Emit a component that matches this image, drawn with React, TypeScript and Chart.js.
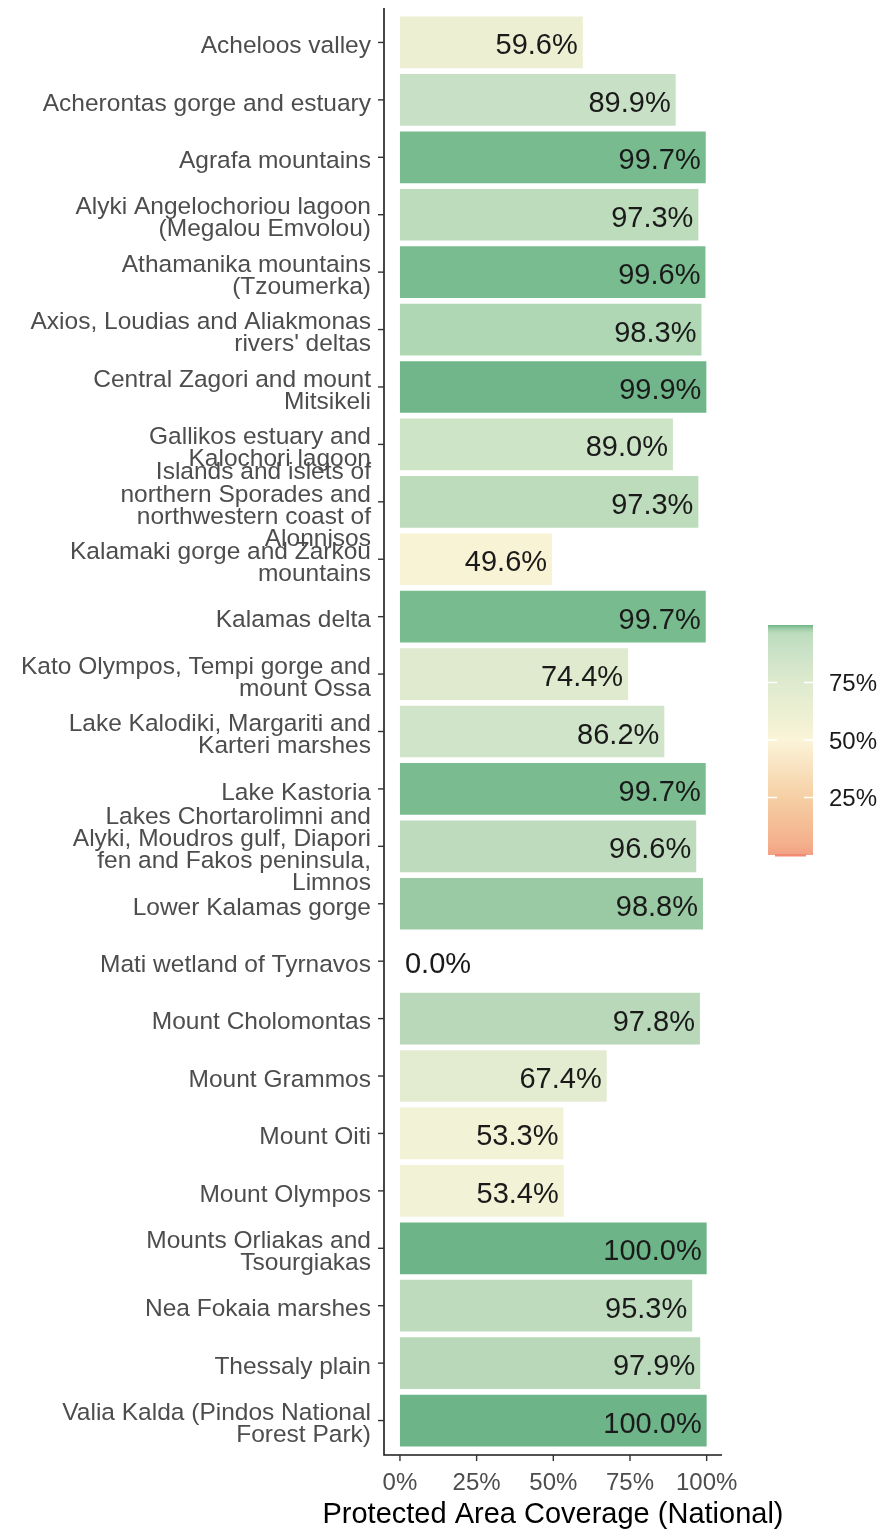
import React, { useEffect, useRef } from "react";
import { Chart, registerables } from "chart.js";

Chart.register(...registerables);

const FONT = "'Liberation Sans', Arial, sans-serif";

const categories: (string | string[])[] = [
  "Acheloos valley",
  "Acherontas gorge and estuary",
  "Agrafa mountains",
  ["Alyki Angelochoriou lagoon", "(Megalou Emvolou)"],
  ["Athamanika mountains", "(Tzoumerka)"],
  ["Axios, Loudias and Aliakmonas", "rivers' deltas"],
  ["Central Zagori and mount", "Mitsikeli"],
  ["Gallikos estuary and", "Kalochori lagoon"],
  ["Islands and islets of", "northern Sporades and", "northwestern coast of", "Alonnisos"],
  ["Kalamaki gorge and Zarkou", "mountains"],
  "Kalamas delta",
  ["Kato Olympos, Tempi gorge and", "mount Ossa"],
  ["Lake Kalodiki, Margariti and", "Karteri marshes"],
  "Lake Kastoria",
  ["Lakes Chortarolimni and", "Alyki, Moudros gulf, Diapori", "fen and Fakos peninsula,", "Limnos"],
  "Lower Kalamas gorge",
  "Mati wetland of Tyrnavos",
  "Mount Cholomontas",
  "Mount Grammos",
  "Mount Oiti",
  "Mount Olympos",
  ["Mounts Orliakas and", "Tsourgiakas"],
  "Nea Fokaia marshes",
  "Thessaly plain",
  ["Valia Kalda (Pindos National", "Forest Park)"],
];

const coverage: number[] = [
  59.6, 89.9, 99.7, 97.3, 99.6, 98.3, 99.9, 89.0, 97.3, 49.6, 99.7, 74.4, 86.2,
  99.7, 96.6, 98.8, 0.0, 97.8, 67.4, 53.3, 53.4, 100.0, 95.3, 97.9, 100.0,
];

const barColors: string[] = [
  "#ecefd2", "#c8e1c6", "#78bb8f", "#bcdcbc", "#79bc90", "#b0d7b4", "#70b68a",
  "#cde4c7", "#bcdcbc", "#f9f3d6", "#78bb8f", "#dfeace", "#cfe4c8", "#7abc90",
  "#bedcbd", "#9acaa3", "#f08a70", "#b8d8b9", "#e3ebd0", "#f2f2d6", "#f2f2d6",
  "#6db488", "#bedcbd", "#b8d8b9", "#6db488",
];

const xTicks: number[] = [0, 25, 50, 75, 100];
const legendTicks: number[] = [25, 50, 75];
const legendStops: [number, string][] = [
  [0, "#f2a084"],
  [0.05, "#f4b08c"],
  [0.25, "#f6cfa5"],
  [0.5, "#fbf4d8"],
  [0.6, "#eef0d3"],
  [0.75, "#deeace"],
  [0.9, "#c8e1c6"],
  [0.965, "#bcdcbc"],
  [0.985, "#9acaa3"],
  [1, "#6db488"],
];

const xTitle = "Protected Area Coverage (National)";

const W = 879;
const H = 1531;

const decorPlugin = {
  id: "decor",
  afterDatasetsDraw(chart: any) {
    const ctx = chart.ctx;
    const area = chart.chartArea;
    const xs = chart.scales.x;
    const ys = chart.scales.y;
    const meta = chart.getDatasetMeta(0);

    // value labels
    ctx.save();
    ctx.font = `29px ${FONT}`;
    ctx.fillStyle = "#1a1a1a";
    ctx.textBaseline = "middle";
    meta.data.forEach((el: any, i: number) => {
      const v = coverage[i];
      const txt = v.toFixed(1) + "%";
      if (v < 10) {
        ctx.textAlign = "left";
        ctx.fillText(txt, el.x + 5, el.y + 4);
      } else {
        ctx.textAlign = "right";
        ctx.fillText(txt, el.x - 5, el.y + 4);
      }
    });
    ctx.restore();

    // axes lines + ticks
    ctx.save();
    ctx.strokeStyle = "#1a1a1a";
    ctx.lineWidth = 1.6;
    ctx.beginPath();
    ctx.moveTo(area.left, area.top);
    ctx.lineTo(area.left, area.bottom);
    ctx.lineTo(area.right, area.bottom);
    ctx.stroke();
    ctx.strokeStyle = "#333333";
    ctx.lineWidth = 1.4;
    categories.forEach((_, i) => {
      const y = ys.getPixelForValue(i);
      ctx.beginPath();
      ctx.moveTo(area.left - 6, y);
      ctx.lineTo(area.left, y);
      ctx.stroke();
    });
    xTicks.forEach((t) => {
      const x = xs.getPixelForValue(t);
      ctx.beginPath();
      ctx.moveTo(x, area.bottom);
      ctx.lineTo(x, area.bottom + 6);
      ctx.stroke();
    });
    ctx.restore();

    // axis title
    ctx.save();
    ctx.font = `29px ${FONT}`;
    ctx.fillStyle = "#000000";
    ctx.textAlign = "center";
    ctx.textBaseline = "middle";
    ctx.fillText(xTitle, 553, 1515);
    ctx.restore();

    // colour bar legend
    const lx = 768, lw = 45, ltop = 625, lh = 230;
    ctx.save();
    const g = ctx.createLinearGradient(0, ltop + lh, 0, ltop);
    legendStops.forEach(([p, c]) => g.addColorStop(p, c));
    ctx.fillStyle = g;
    ctx.fillRect(lx, ltop, lw, lh);
    ctx.fillStyle = "#f08a70";
    ctx.fillRect(lx + 7, ltop + lh - 1, lw - 14, 2.5);
    ctx.strokeStyle = "#ffffff";
    ctx.lineWidth = 1.5;
    ctx.font = `24px ${FONT}`;
    ctx.fillStyle = "#1a1a1a";
    ctx.textAlign = "left";
    ctx.textBaseline = "middle";
    legendTicks.forEach((t) => {
      const y = ltop + lh - (t / 100) * lh;
      ctx.beginPath();
      ctx.moveTo(lx, y);
      ctx.lineTo(lx + 9, y);
      ctx.moveTo(lx + lw - 9, y);
      ctx.lineTo(lx + lw, y);
      ctx.stroke();
      ctx.fillText(t + "%", 829, y + 2);
    });
    ctx.restore();
  },
};

export default function App() {
  const ref = useRef<HTMLCanvasElement | null>(null);

  useEffect(() => {
    if (!ref.current) return;
    const chart = new Chart(ref.current, {
      type: "bar",
      data: {
        datasets: [
          {
            data: coverage.map((v, i) => ({ x: v, y: i })),
            backgroundColor: barColors,
            borderWidth: 0,
            barPercentage: 0.9,
            categoryPercentage: 1,
          },
        ],
      },
      options: {
        indexAxis: "y",
        responsive: false,
        animation: false,
        devicePixelRatio: 1,
        layout: { padding: { top: 8, right: W - 722, left: 0, bottom: 0 } },
        plugins: {
          legend: { display: false },
          tooltip: { enabled: false },
        },
        scales: {
          x: {
            type: "linear",
            min: -5.2,
            max: 105,
            offset: false,
            afterBuildTicks: (s: any) => {
              s.ticks = xTicks.map((v) => ({ value: v }));
            },
            afterFit: (s: any) => {
              s.height = H - 1455;
              s.paddingLeft = 0;
              s.paddingRight = 0;
            },
            grid: { display: false },
            border: { display: false },
            ticks: {
              callback: (v: any) => v + "%",
              color: "#4d4d4d",
              font: { family: FONT, size: 24 },
              padding: 6,
              autoSkip: false,
              maxRotation: 0,
            },
          },
          y: {
            type: "linear",
            reverse: true,
            offset: false,
            min: -0.6,
            max: categories.length - 0.4,
            afterBuildTicks: (s: any) => {
              s.ticks = categories.map((_, i) => ({ value: i }));
            },
            afterFit: (s: any) => {
              s.width = 384;
              s.paddingTop = 0;
              s.paddingBottom = 0;
            },
            grid: { display: false },
            border: { display: false },
            ticks: {
              callback: (v: any) => categories[Math.round(v)],
              color: "#4d4d4d",
              font: { family: FONT, size: 24.5, lineHeight: 0.9 },
              padding: 5,
              labelOffset: 4,
              autoSkip: false,
            },
          },
        },
      },
      plugins: [decorPlugin],
    } as any);
    return () => chart.destroy();
  }, []);

  return (
    <div style={{ position: "absolute", left: 0, top: 0, width: W, height: H, background: "#fff" }}>
      <canvas ref={ref} width={W} height={H} style={{ display: "block", width: W, height: H }} />
    </div>
  );
}
